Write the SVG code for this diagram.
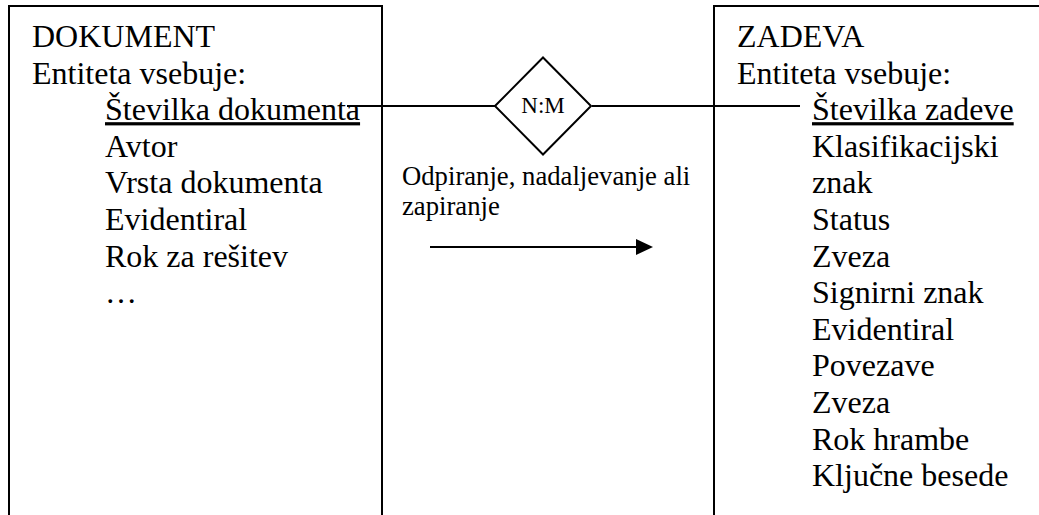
<svg xmlns="http://www.w3.org/2000/svg" width="1039" height="515" viewBox="0 0 1039 515">
<defs>
<style>
text{font-family:"Liberation Serif","Tinos","Times New Roman","DejaVu Serif","Noto Serif",serif;fill:#000}
.t{font-size:32px}
.u{text-decoration:underline}
.lbl{font-size:26.7px}
.rel{font-size:23px}
.ln{stroke:#000;stroke-width:2;fill:none}
</style>
</defs>
<rect width="1039" height="515" fill="#fff"/>
<g id="connectors">
<line class="ln" x1="347" y1="106" x2="495" y2="106"/>
<line class="ln" x1="592" y1="106" x2="800" y2="106"/>
<line class="ln" x1="430" y1="247" x2="638" y2="247"/>
<polygon points="636,239 653,247 636,255" fill="#000"/>
</g>
<g id="dokument">
<path class="ln" d="M9,516 V6 H382 V516"/>
<text class="t" x="32" y="47" font-family="Liberation Serif, serif">DOKUMENT</text>
<text class="t" x="32" y="83.6">Entiteta vsebuje:</text>
<text class="t u" x="105" y="120.2">Številka dokumenta</text>
<text class="t" x="105" y="156.8">Avtor</text>
<text class="t" x="105" y="193.4">Vrsta dokumenta</text>
<text class="t" x="105" y="230">Evidentiral</text>
<text class="t" x="105" y="266.6">Rok za rešitev</text>
<text class="t" x="105" y="303.2">…</text>
</g>
<g id="relationship">
<path class="ln" d="M495,106 L543,57.5 L591,106 L543,154.5 Z" fill="#fff"/>
<text class="rel" x="543" y="113" text-anchor="middle">N:M</text>
</g>
<g id="label">
<text class="lbl" x="402" y="185">Odpiranje, nadaljevanje ali</text>
<text class="lbl" x="402" y="215">zapiranje</text>
</g>
<g id="zadeva">
<path class="ln" d="M1040,6 H714 V516"/>
<text class="t" x="737" y="47">ZADEVA</text>
<text class="t" x="737" y="83.6">Entiteta vsebuje:</text>
<text class="t u" x="812" y="120.2">Številka zadeve</text>
<text class="t" x="812" y="156.8">Klasifikacijski</text>
<text class="t" x="812" y="193.4">znak</text>
<text class="t" x="812" y="230">Status</text>
<text class="t" x="812" y="266.6">Zveza</text>
<text class="t" x="812" y="303.2">Signirni znak</text>
<text class="t" x="812" y="339.8">Evidentiral</text>
<text class="t" x="812" y="376.4">Povezave</text>
<text class="t" x="812" y="413">Zveza</text>
<text class="t" x="812" y="449.6">Rok hrambe</text>
<text class="t" x="812" y="486.2">Ključne besede</text>
</g>
</svg>
